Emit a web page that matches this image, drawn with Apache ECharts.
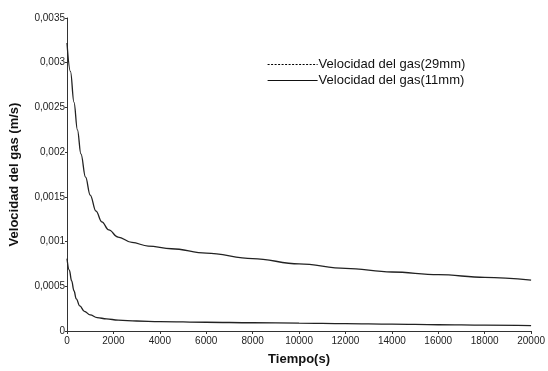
<!DOCTYPE html>
<html>
<head>
<meta charset="utf-8">
<script src="https://cdn.jsdelivr.net/npm/echarts@6/dist/echarts.min.js"></script>
<style>
  html, body { margin: 0; padding: 0; background: #fff; }
  #chart { width: 548px; height: 371px; }
</style>
</head>
<body>
<div id="chart"></div>
<script>
// tiempo (s) y velocidad (m/s)
const tiempo11 = [0, 150, 300, 450, 600, 800, 1000, 1250, 1500, 1800, 2200, 2800, 3500, 4500, 6000, 8000, 10000, 12000, 14000, 16000, 18000, 20000];
const vel11 = [0.00322, 0.00290, 0.00256, 0.00225, 0.00198, 0.00172, 0.00152, 0.00134, 0.00122, 0.00113, 0.00105, 0.00099, 0.00095, 0.00092, 0.00087, 0.00081, 0.00075, 0.00070, 0.00066, 0.00063, 0.00060, 0.00057];

const tiempo29 = [0, 100, 200, 300, 400, 550, 750, 1000, 1300, 1700, 2200, 3000, 4000, 6000, 8000, 10000, 12000, 14000, 16000, 18000, 20000];
const vel29 = [0.00081, 0.00068, 0.00056, 0.00045, 0.00036, 0.00028, 0.00022, 0.00018, 0.00015, 0.000135, 0.000122, 0.000112, 0.000105, 0.000098, 0.000092, 0.000088, 0.000082, 0.000076, 0.00007, 0.000065, 0.00006];

const nombre29 = 'Velocidad del gas(29mm)';
const nombre11 = 'Velocidad del gas(11mm)';

function pares(t, v) {
  return t.map((x, i) => [x, v[i]]);
}

let myChart = echarts.init(document.getElementById('chart'));

let option = {
  animation: false,
  textStyle: { fontFamily: 'Liberation Sans' },
  grid: { left: 66, right: 15, top: 18, bottom: 36, containLabel: false },
  legend: {
    orient: 'vertical',
    left: 262,
    top: 53,
    itemWidth: 50,
    itemHeight: 12,
    itemGap: 3,
    textStyle: { fontSize: 13, color: '#111', padding: [0, 0, 0, -4] },
    data: [
      { name: nombre29, itemStyle: { opacity: 0 }, lineStyle: { type: [2, 1.5], width: 1.2, color: '#000' } },
      { name: nombre11, itemStyle: { opacity: 0 }, lineStyle: { type: 'solid', width: 1.2, color: '#111' } }
    ]
  },
  xAxis: {
    type: 'value',
    min: 0,
    max: 20000,
    interval: 2000,
    name: 'Tiempo(s)',
    nameLocation: 'middle',
    nameGap: 22,
    nameTextStyle: { fontSize: 13, fontWeight: 'bold', color: '#111' },
    axisLine: { lineStyle: { color: '#333', width: 1 } },
    axisTick: { length: 3, lineStyle: { color: '#333' } },
    axisLabel: { fontSize: 10, color: '#222', margin: 5, formatter: v => String(v) },
    splitLine: { show: false }
  },
  yAxis: {
    type: 'value',
    min: 0,
    max: 0.0035,
    interval: 0.0005,
    name: 'Velocidad del gas (m/s)',
    nameLocation: 'middle',
    nameGap: 46,
    nameTextStyle: { fontSize: 13, fontWeight: 'bold', color: '#111' },
    axisLine: { show: true, lineStyle: { color: '#333', width: 1 } },
    axisTick: { show: true, length: 2, lineStyle: { color: '#333' } },
    axisLabel: {
      fontSize: 10,
      color: '#222',
      margin: 2,
      formatter: v => v === 0 ? '0' : String(+v.toFixed(4)).replace('.', ',')
    },
    splitLine: { show: false }
  },
  series: [
    {
      name: nombre29,
      type: 'line',
      data: pares(tiempo29, vel29),
      symbol: 'none',
      smooth: 0.4,
      smoothMonotone: 'x',
      lineStyle: { color: '#222', width: 1.3 },
      itemStyle: { color: '#222' }
    },
    {
      name: nombre11,
      type: 'line',
      data: pares(tiempo11, vel11),
      symbol: 'none',
      smooth: 0.4,
      smoothMonotone: 'x',
      lineStyle: { color: '#222', width: 1.3 },
      itemStyle: { color: '#222' }
    }
  ]
};

myChart.setOption(option);
</script>
</body>
</html>
